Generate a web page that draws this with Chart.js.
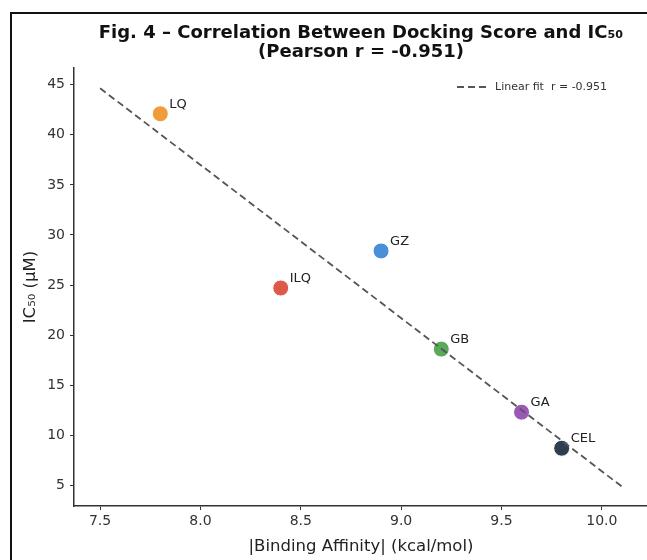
<!DOCTYPE html>
<html>
<head>
<meta charset="utf-8">
<title>Fig. 4 - Docking score vs IC50</title>
<script src="https://cdn.jsdelivr.net/npm/chart.js@4.4.1/dist/chart.umd.min.js"></script>
<style>
  html, body { margin: 0; padding: 0; background: #fff; overflow: hidden; }
  #wrap { position: relative; width: 647px; height: 560px; overflow: hidden; }
  #frame { position: absolute; left: 10px; top: 12px; width: 700px; height: 600px;
           border-left: 2px solid #111; border-top: 2px solid #111; pointer-events: none; }
  #c-chart { position: absolute; left: 0; top: 0; }
</style>
</head>
<body>
<div id="wrap">
  <canvas id="c-chart" width="660" height="560"></canvas>
  <div id="frame"></div>
</div>
<script>
// compounds and values
var compounds = ['LQ', 'ILQ', 'GZ', 'GB', 'GA', 'CEL']
var affinity = [7.8, 8.4, 8.9, 9.2, 9.6, 9.8]      // |binding affinity| kcal/mol
var ic50 = [42.1, 24.7, 28.4, 18.6, 12.3, 8.7]     // uM
var pointColors = ['#F09C3A', '#DD5A48', '#4A90D9', '#5AAA5A', '#9B59B6', '#2C3E50']

// linear fit end points
var fitX = [7.5, 10.1]
var fitY = [44.65, 4.87]
var fitLabel = 'Linear fit  r = -0.951'

var xTicks = [7.5, 8.0, 8.5, 9.0, 9.5, 10.0]
var yTicks = [5, 10, 15, 20, 25, 30, 35, 40, 45]

var FONT = "'DejaVu Sans', sans-serif"

var pointLabels = {
  id: 'pointLabels',
  afterDatasetsDraw: function(chart) {
    var ctx = chart.ctx
    var meta = chart.getDatasetMeta(1)
    ctx.save()
    ctx.font = '13px ' + FONT
    ctx.fillStyle = '#222'
    ctx.textAlign = 'left'
    ctx.textBaseline = 'alphabetic'
    meta.data.forEach(function(pt, i) {
      ctx.fillText(compounds[i], pt.x + 9, pt.y - 6)
    })
    ctx.restore()
  }
}

var fitLegend = {
  id: 'fitLegend',
  afterDraw: function(chart) {
    var ctx = chart.ctx
    var a = chart.chartArea
    var y = a.top + 19
    ctx.save()
    ctx.strokeStyle = '#555'
    ctx.lineWidth = 1.8
    ctx.setLineDash([7, 4])
    ctx.beginPath()
    ctx.moveTo(a.right - 191, y)
    ctx.lineTo(a.right - 161, y)
    ctx.stroke()
    ctx.setLineDash([])
    ctx.font = '11px ' + FONT
    ctx.fillStyle = '#333'
    ctx.textBaseline = 'middle'
    ctx.fillText(fitLabel, a.right - 153, y)
    ctx.restore()
  }
}

var config = {
  data: {
    datasets: [
      {
        type: 'line',
        label: fitLabel,
        data: fitX.map(function(x, i) { return { x: x, y: fitY[i] } }),
        borderColor: '#555',
        borderWidth: 1.8,
        borderDash: [7, 4],
        pointRadius: 0,
        fill: false
      },
      {
        type: 'scatter',
        label: 'Compounds',
        data: affinity.map(function(x, i) { return { x: x, y: ic50[i] } }),
        backgroundColor: pointColors,
        borderColor: '#fff',
        borderWidth: 1,
        pointRadius: 8,
        pointHoverRadius: 8
      }
    ]
  },
  options: {
    responsive: false,
    animation: false,
    devicePixelRatio: 1,
    layout: { padding: { left: 0, right: 12, top: 0, bottom: 0 } },
    plugins: {
      legend: { display: false },
      tooltip: { enabled: false },
      title: {
        display: true,
        fullSize: false,
        text: ['Fig. 4 – Correlation Between Docking Score and IC₅₀', '(Pearson r = -0.951)'],
        color: '#111',
        font: { family: FONT, size: 18, weight: 'bold', lineHeight: 1.056 },
        padding: { top: 23.5, bottom: 6.5 }
      }
    },
    scales: {
      x: {
        type: 'linear',
        min: 7.37,
        max: 10.23,
        afterFit: function(scale) { scale.height = 54 },
        afterBuildTicks: function(scale) {
          scale.ticks = xTicks.map(function(v) { return { value: v } })
        },
        ticks: {
          color: '#333',
          font: { family: FONT, size: 14 },
          padding: 3,
          maxRotation: 0,
          callback: function(v) { return Number(v).toFixed(1) }
        },
        grid: { display: true, drawOnChartArea: false, drawTicks: true, tickLength: 4, color: '#333', lineWidth: 1 },
        border: { display: true, color: '#333', width: 1.5 },
        title: {
          display: true,
          text: '|Binding Affinity| (kcal/mol)',
          color: '#222',
          font: { family: FONT, size: 16.5, lineHeight: 1.2 },
          padding: { top: 0, bottom: 3.1 }
        }
      },
      y: {
        type: 'linear',
        min: 2.93,
        max: 46.67,
        afterFit: function(scale) { scale.width = 74 },
        afterBuildTicks: function(scale) {
          scale.ticks = yTicks.map(function(v) { return { value: v } })
        },
        ticks: {
          color: '#333',
          font: { family: FONT, size: 14 },
          padding: 5
        },
        grid: { display: true, drawOnChartArea: false, drawTicks: true, tickLength: 4, color: '#333', lineWidth: 1 },
        border: { display: true, color: '#333', width: 1.5 },
        title: {
          display: true,
          text: 'IC₅₀ (μM)',
          color: '#222',
          font: { family: FONT, size: 16.5, lineHeight: 1.2 },
          padding: { top: 21.1, bottom: 0 }
        }
      }
    }
  },
  plugins: [pointLabels, fitLegend]
}

var ctx = document.getElementById('c-chart').getContext('2d')
new Chart(ctx, config)
</script>
</body>
</html>
